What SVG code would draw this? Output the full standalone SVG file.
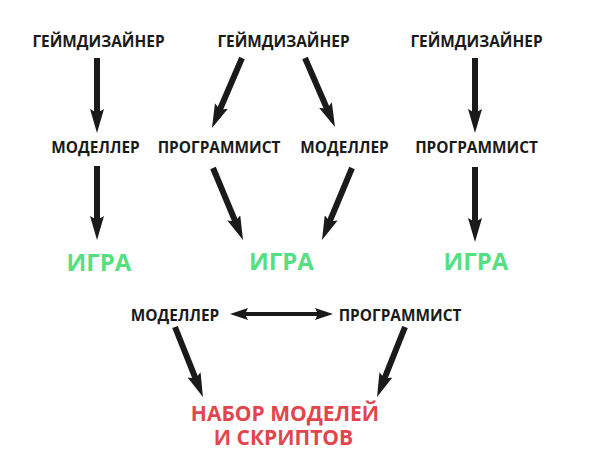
<svg xmlns="http://www.w3.org/2000/svg" width="593" height="474" viewBox="0 0 593 474">
<style>
text{font-family:"Open Sans","Noto Sans","Liberation Sans",sans-serif;font-weight:bold;text-anchor:middle}
.lbl{font-size:15.4px;fill:#1a1a1a}
.game{font-size:24px;fill:#55e07f}
.res{font-size:21px;fill:#e2454c}
.arr{stroke:#1a1a1a;stroke-width:6;fill:none;marker-end:url(#head)}
.dbl{stroke:#1a1a1a;stroke-width:4;fill:none;marker-end:url(#head2);marker-start:url(#head2)}
</style>
<defs>
<marker id="head" markerUnits="userSpaceOnUse" viewBox="0 0 24 14" markerWidth="24" markerHeight="14" refX="12" refY="7" orient="auto">
<path d="M0,0 L24,7 L0,14 L4,7 Z" fill="#1a1a1a"/>
</marker>
<marker id="head2" markerUnits="userSpaceOnUse" viewBox="0 0 18 12" markerWidth="18" markerHeight="12" refX="9" refY="6" orient="auto-start-reverse">
<path d="M0,0 L18,6 L0,12 L3,6 Z" fill="#1a1a1a"/>
</marker>
</defs>
<g id="gd1"><text class="lbl" x="98.5" y="47">ГЕЙМДИЗАЙНЕР</text></g>
<g id="gd2"><text class="lbl" x="283.5" y="47">ГЕЙМДИЗАЙНЕР</text></g>
<g id="gd3"><text class="lbl" x="476.5" y="47">ГЕЙМДИЗАЙНЕР</text></g>
<g id="mod1"><text class="lbl" x="95.5" y="153">МОДЕЛЛЕР</text></g>
<g id="prog2"><text class="lbl" x="219" y="153">ПРОГРАММИСТ</text></g>
<g id="mod2"><text class="lbl" x="344.5" y="153">МОДЕЛЛЕР</text></g>
<g id="prog3"><text class="lbl" x="476.5" y="153">ПРОГРАММИСТ</text></g>
<g id="game1"><text class="game" x="99" y="271">ИГРА</text></g>
<g id="game2"><text class="game" x="281.5" y="270">ИГРА</text></g>
<g id="game3"><text class="game" x="476" y="270">ИГРА</text></g>
<g id="mod4"><text class="lbl" x="175" y="321">МОДЕЛЛЕР</text></g>
<g id="prog4"><text class="lbl" x="400" y="321">ПРОГРАММИСТ</text></g>
<g id="result"><text class="res" x="285" y="421"><tspan x="285" y="421">НАБОР МОДЕЛЕЙ</tspan><tspan x="283.5" y="445">И СКРИПТОВ</tspan></text></g>
<g id="connectors">
<line class="arr" x1="97" y1="58" x2="97" y2="121"/>
<line class="arr" x1="97" y1="166" x2="97" y2="228"/>
<line class="arr" x1="242" y1="58" x2="216.7" y2="117"/>
<line class="arr" x1="305" y1="58" x2="330.2" y2="116"/>
<line class="arr" x1="213" y1="168" x2="238.4" y2="228.9"/>
<line class="arr" x1="352" y1="168" x2="326.6" y2="228.9"/>
<line class="arr" x1="475" y1="58" x2="475" y2="121"/>
<line class="arr" x1="475" y1="167" x2="475" y2="230"/>
<line class="arr" x1="175" y1="327" x2="198.5" y2="385.9"/>
<line class="arr" x1="405" y1="327" x2="381.5" y2="385.9"/>
<line class="dbl" x1="239" y1="314" x2="324" y2="314"/>
</g>
</svg>
